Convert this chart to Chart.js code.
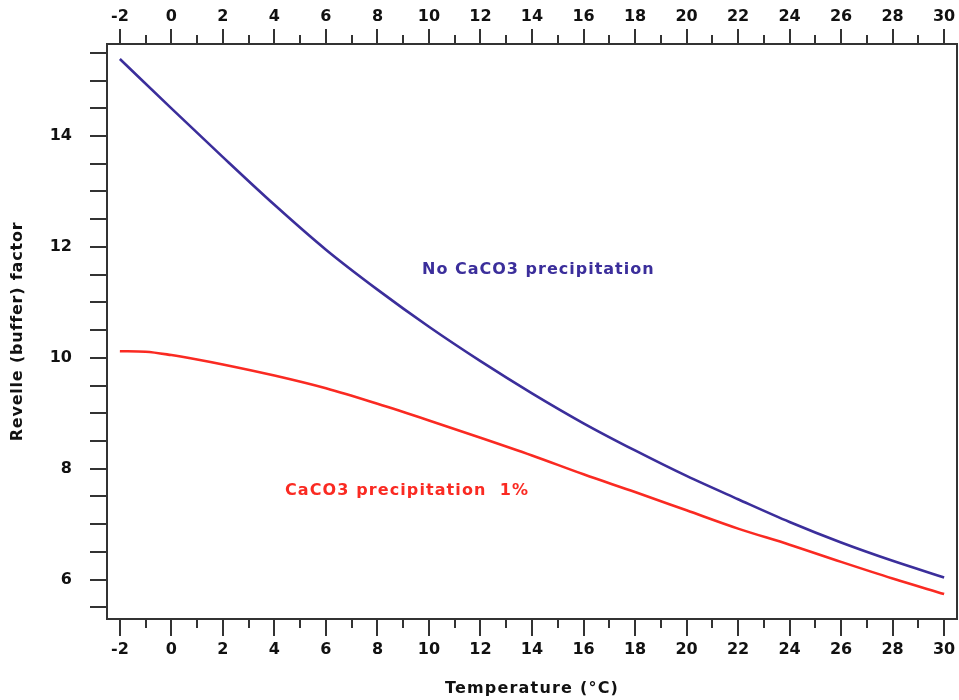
<!DOCTYPE html>
<html><head><meta charset="utf-8">
<script src="https://cdn.jsdelivr.net/npm/chart.js@4"></script>
<style>html,body{margin:0;padding:0;background:#fff}</style>
</head><body>
<canvas id="c" width="959" height="700"></canvas>
<script>
// Temperature (°C) grid for the curves
const blueTemps = [-2, 0, 2, 4, 6, 8, 10, 12, 14, 16, 18, 20, 22, 24, 26, 28, 30];
const noPrecip  = [15.39, 14.50, 13.62, 12.76, 11.95, 11.23, 10.56, 9.94, 9.36, 8.82, 8.33, 7.87, 7.45, 7.04, 6.67, 6.34, 6.04];
const redTemps  = [-2, -1, 0, 1, 2, 4, 6, 8, 10, 12, 14, 16, 18, 20, 22, 24, 26, 28, 30];
const precip1   = [10.12, 10.11, 10.05, 9.97, 9.88, 9.68, 9.45, 9.17, 8.87, 8.56, 8.24, 7.90, 7.58, 7.25, 6.92, 6.63, 6.32, 6.02, 5.74];
const xTickValues = [-2, 0, 2, 4, 6, 8, 10, 12, 14, 16, 18, 20, 22, 24, 26, 28, 30];
const yTickValues = [6, 8, 10, 12, 14];
const labelBlue = 'No CaCO3 precipitation';
const labelRed = 'CaCO3 precipitation  1%';
const xTitle = 'Temperature (°C)';
const yTitle = 'Revelle (buffer) factor';

const BLUE = '#3b2e9b', RED = '#fa2a22', AX = '#333333';
const FONT = 'DejaVu Sans';

function pts(xs, ys) { return xs.map((x, i) => ({x: x, y: ys[i]})); }

const tickPlugin = {
  id: 'ticksAndBox',
  afterDraw(chart) {
    const ctx = chart.ctx, a = chart.chartArea;
    const xs = chart.scales.x, ys = chart.scales.y;
    ctx.save();
    ctx.strokeStyle = AX;
    ctx.lineWidth = 2;
    ctx.strokeRect(a.left, a.top, a.right - a.left, a.bottom - a.top);
    ctx.beginPath();
    for (let v = -2; v <= 30; v++) {
      const px = Math.round(xs.getPixelForValue(v));
      const major = v % 2 === 0;
      const lb = major ? 17 : 9, lt = major ? 15 : 9;
      ctx.moveTo(px, a.bottom); ctx.lineTo(px, a.bottom + lb);
      ctx.moveTo(px, a.top); ctx.lineTo(px, a.top - lt);
    }
    for (let v = 5.5; v <= 15.5 + 1e-9; v += 0.5) {
      const py = Math.round(ys.getPixelForValue(v));
      ctx.moveTo(a.left, py); ctx.lineTo(a.left - 17, py);
    }
    ctx.stroke();
    // curve labels
    ctx.font = 'bold 16px "' + FONT + '"';
    ctx.letterSpacing = '1px';
    ctx.textBaseline = 'middle';
    ctx.textAlign = 'left';
    ctx.fillStyle = BLUE;
    ctx.fillText(labelBlue, xs.getPixelForValue(9.73), ys.getPixelForValue(11.58));
    ctx.letterSpacing = '1.1px';
    ctx.fillStyle = RED;
    ctx.fillText(labelRed, xs.getPixelForValue(4.41), ys.getPixelForValue(7.60));
    // axis titles
    ctx.fillStyle = '#111';
    ctx.textAlign = 'center';
    ctx.letterSpacing = '1.2px';
    ctx.fillText(xTitle, (a.left + a.right) / 2, 689);
    ctx.translate(18, (a.top + a.bottom) / 2);
    ctx.rotate(-Math.PI / 2);
    ctx.letterSpacing = '0.8px';
    ctx.fillText(yTitle, 0, 0);
    ctx.restore();
  }
};

const tickFont = {family: FONT, size: 16, weight: 'bold'};
function xTicks(scale) { scale.ticks = xTickValues.map(v => ({value: v})); }
function noPad(s) { s.paddingLeft = 0; s.paddingRight = 0; s.paddingTop = 0; s.paddingBottom = 0; }

new Chart(document.getElementById('c'), {
  type: 'scatter',
  data: {
    datasets: [
      {label: labelBlue, data: pts(blueTemps, noPrecip), showLine: true, borderColor: BLUE, borderWidth: 2.6, pointRadius: 0, cubicInterpolationMode: 'monotone', fill: false},
      {label: labelRed, data: pts(redTemps, precip1), showLine: true, borderColor: RED, borderWidth: 2.6, pointRadius: 0, cubicInterpolationMode: 'monotone', fill: false}
    ]
  },
  options: {
    responsive: false,
    animation: false,
    layout: {padding: {left: 0, right: 2, top: 0, bottom: 0}},
    plugins: {legend: {display: false}, tooltip: {enabled: false}},
    scales: {
      x: {
        type: 'linear', position: 'bottom', min: -2.5, max: 30.5,
        afterBuildTicks: xTicks,
        afterFit: s => { s.height = 81; noPad(s); },
        grid: {display: false, drawTicks: false},
        border: {display: false},
        ticks: {font: tickFont, color: '#111', padding: 21, maxRotation: 0, autoSkip: false}
      },
      x2: {
        type: 'linear', axis: 'x', position: 'top', min: -2.5, max: 30.5,
        afterBuildTicks: xTicks,
        afterFit: s => { s.height = 44; noPad(s); },
        grid: {display: false, drawTicks: false},
        border: {display: false},
        ticks: {font: tickFont, color: '#111', padding: 18, maxRotation: 0, autoSkip: false}
      },
      y: {
        type: 'linear', position: 'left', min: 5.29, max: 15.66,
        afterBuildTicks: s => { s.ticks = yTickValues.map(v => ({value: v})); },
        afterFit: s => { s.width = 107; noPad(s); },
        grid: {display: false, drawTicks: false},
        border: {display: false},
        ticks: {font: tickFont, color: '#111', padding: 35}
      }
    }
  },
  plugins: [tickPlugin]
});
</script>
</body></html>
